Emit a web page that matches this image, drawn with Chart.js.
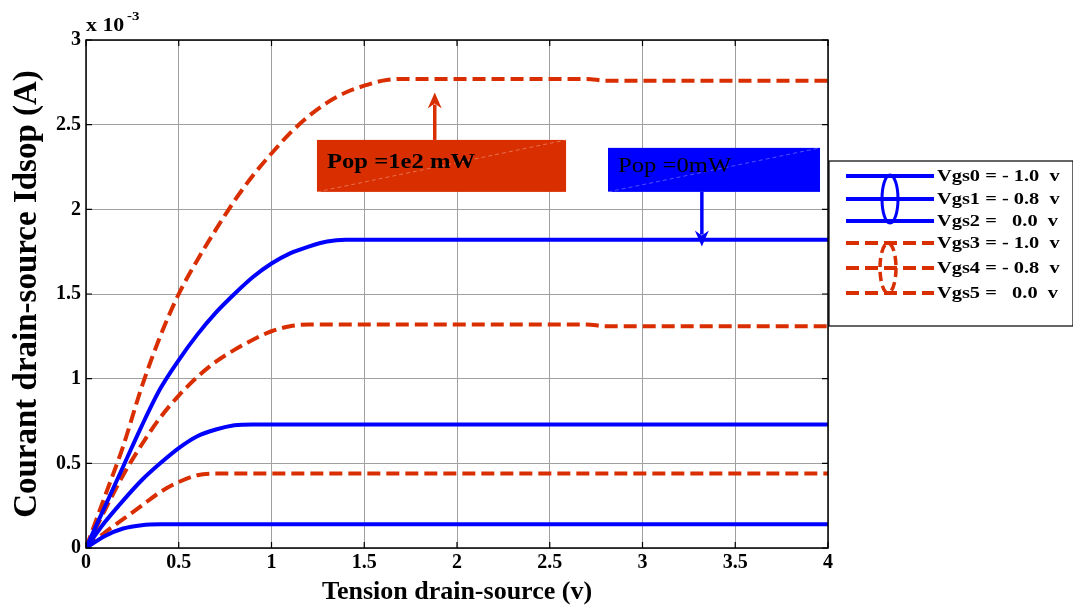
<!DOCTYPE html>
<html>
<head>
<meta charset="utf-8">
<script src="https://cdn.jsdelivr.net/npm/chart.js@4.4.0/dist/chart.umd.min.js"></script>
<style>
  html, body { margin: 0; padding: 0; background: #fff; }
  #wrap { width: 1073px; height: 608px; }
</style>
</head>
<body>
<div id="wrap"><canvas id="idsChart" width="1073" height="608"></canvas></div>
<script>
// drain-source voltage (v)
const vds = [0, 0.1, 0.2, 0.3, 0.4, 0.5, 0.6, 0.7, 0.8, 0.9, 1.0, 1.1, 1.2, 1.3, 1.4, 1.5, 1.6, 1.7, 1.8, 2.0, 2.5, 2.7, 2.8, 3.0, 3.5, 4.0];

// drain current, units of 1e-3 A
// Pop = 0 mW (blue, solid)
const vgs0 = [0, 0.07, 0.115, 0.135, 0.14, 0.14, 0.14, 0.14, 0.14, 0.14, 0.14, 0.14, 0.14, 0.14, 0.14, 0.14, 0.14, 0.14, 0.14, 0.14, 0.14, 0.14, 0.14, 0.14, 0.14, 0.14];
const vgs1 = [0, 0.15, 0.28, 0.4, 0.5, 0.59, 0.66, 0.7, 0.725, 0.73, 0.73, 0.73, 0.73, 0.73, 0.73, 0.73, 0.73, 0.73, 0.73, 0.73, 0.73, 0.73, 0.73, 0.73, 0.73, 0.73];
const vgs2 = [0, 0.24, 0.48, 0.72, 0.94, 1.11, 1.26, 1.39, 1.5, 1.6, 1.68, 1.74, 1.78, 1.81, 1.82, 1.82, 1.82, 1.82, 1.82, 1.82, 1.82, 1.82, 1.82, 1.82, 1.82, 1.82];
// Pop = 1e2 mW (red, dashed)
const vgs3 = [0, 0.09, 0.17, 0.25, 0.33, 0.39, 0.43, 0.44, 0.44, 0.44, 0.44, 0.44, 0.44, 0.44, 0.44, 0.44, 0.44, 0.44, 0.44, 0.44, 0.44, 0.44, 0.44, 0.44, 0.44, 0.44];
const vgs4 = [0, 0.22, 0.43, 0.61, 0.77, 0.9, 1.01, 1.1, 1.17, 1.23, 1.28, 1.31, 1.32, 1.32, 1.32, 1.32, 1.32, 1.32, 1.32, 1.32, 1.32, 1.32, 1.31, 1.31, 1.31, 1.31];
const vgs5 = [0, 0.3, 0.6, 0.95, 1.25, 1.5, 1.7, 1.88, 2.05, 2.2, 2.33, 2.45, 2.55, 2.63, 2.69, 2.73, 2.76, 2.77, 2.77, 2.77, 2.77, 2.77, 2.76, 2.76, 2.76, 2.76];

const legendLabels = ['Vgs0 = - 1.0  v', 'Vgs1 = - 0.8  v', 'Vgs2 =   0.0  v', 'Vgs3 = - 1.0  v', 'Vgs4 = - 0.8  v', 'Vgs5 =   0.0  v'];

const BLUE = '#0000ff';
const RED = '#d92e00';
const SERIF = '"Liberation Serif", "Times New Roman", serif';

const toPoints = (ys) => vds.map((x, i) => ({ x: x, y: ys[i] }));

const makeSet = (label, ys, color, dashed) => ({
    label: label,
    data: toPoints(ys),
    borderColor: color,
    backgroundColor: color,
    borderWidth: 4,
    borderDash: dashed ? [13, 6] : [],
    pointRadius: 0,
    cubicInterpolationMode: 'monotone',
    fill: false
});

// text squeezed wider, the original figure is stretched sideways
const wideText = (ctx, text, x, y, sx) => {
    ctx.save();
    ctx.translate(x, y);
    ctx.scale(sx, 1);
    ctx.fillText(text, 0, 0);
    ctx.restore();
};

// frame, notes and legend drawn on top of the chart area
const extrasPlugin = {
    id: 'extras',
    afterDraw(chart) {
        const ctx = chart.ctx;
        const xs = chart.scales.x, ys = chart.scales.y;
        const a = chart.chartArea;
        ctx.save();

        // frame + inward ticks
        ctx.strokeStyle = '#000';
        ctx.lineWidth = 1.5;
        ctx.strokeRect(a.left, a.top, a.right - a.left, a.bottom - a.top);
        ctx.lineWidth = 1.2;
        ctx.beginPath();
        xs.ticks.forEach(t => {
            const p = xs.getPixelForValue(t.value);
            ctx.moveTo(p, a.bottom); ctx.lineTo(p, a.bottom - 6);
            ctx.moveTo(p, a.top); ctx.lineTo(p, a.top + 6);
        });
        ys.ticks.forEach(t => {
            const p = ys.getPixelForValue(t.value);
            ctx.moveTo(a.left, p); ctx.lineTo(a.left + 6, p);
            ctx.moveTo(a.right, p); ctx.lineTo(a.right - 6, p);
        });
        ctx.stroke();

        // exponent
        ctx.fillStyle = '#000';
        ctx.textBaseline = 'alphabetic';
        ctx.font = 'bold 19px ' + SERIF;
        wideText(ctx, 'x 10', a.left, a.top - 9, 1.15);
        ctx.font = 'bold 13px ' + SERIF;
        wideText(ctx, '-3', a.left + 41, a.top - 20, 1.15);

        // note boxes
        const note = (x0, x1, y0, y1, fill, text, bold) => {
            const l = xs.getPixelForValue(x0), r = xs.getPixelForValue(x1);
            const t = ys.getPixelForValue(y0), b = ys.getPixelForValue(y1);
            ctx.fillStyle = fill;
            ctx.fillRect(l, t, r - l, b - t);
            ctx.strokeStyle = 'rgba(255,255,255,0.45)';
            ctx.lineWidth = 0.7;
            ctx.setLineDash([4, 3]);
            ctx.beginPath();
            ctx.moveTo(l, b);
            ctx.lineTo(r, t);
            ctx.stroke();
            ctx.setLineDash([]);
            ctx.fillStyle = '#000';
            ctx.font = (bold ? 'bold ' : '') + '22px ' + SERIF;
            ctx.textBaseline = 'middle';
            wideText(ctx, text, l + 10, (t + b) / 2 - 4, 1.12);
        };
        const arrow = (x, yFrom, yTo, color) => {
            const px = xs.getPixelForValue(x);
            const p0 = ys.getPixelForValue(yFrom), p1 = ys.getPixelForValue(yTo);
            const dir = p1 < p0 ? -1 : 1;
            ctx.strokeStyle = color;
            ctx.fillStyle = color;
            ctx.lineWidth = 3.5;
            ctx.beginPath();
            ctx.moveTo(px, p0);
            ctx.lineTo(px, p1 - dir * 12);
            ctx.stroke();
            ctx.beginPath();
            ctx.moveTo(px, p1);
            ctx.lineTo(px - 7, p1 - dir * 16);
            ctx.lineTo(px, p1 - dir * 11);
            ctx.lineTo(px + 7, p1 - dir * 16);
            ctx.closePath();
            ctx.fill();
        };
        note(1.245, 2.588, 2.41, 2.103, RED, 'Pop =1e2 mW', true);
        arrow(1.88, 2.41, 2.69, RED);
        note(2.814, 3.957, 2.363, 2.103, BLUE, 'Pop =0mW', false);
        arrow(3.32, 2.103, 1.78, BLUE);

        // legend
        const lx = a.right + 1, ly = 161, lw = 244, lh = 165;
        ctx.fillStyle = '#fff';
        ctx.fillRect(lx, ly, lw, lh);
        ctx.strokeStyle = '#000';
        ctx.lineWidth = 1.2;
        ctx.strokeRect(lx, ly, lw, lh);
        const rows = [176, 199, 221, 243, 268, 293];
        chart.data.datasets.forEach((ds, i) => {
            ctx.strokeStyle = ds.borderColor;
            ctx.lineWidth = 4;
            ctx.setLineDash(ds.borderDash);
            ctx.beginPath();
            ctx.moveTo(846, rows[i]);
            ctx.lineTo(934, rows[i]);
            ctx.stroke();
            ctx.setLineDash([]);
            ctx.fillStyle = '#000';
            ctx.font = 'bold 17px ' + SERIF;
            ctx.textBaseline = 'middle';
            wideText(ctx, ds.label, 937, rows[i] + 1, 1.2);
        });
        ctx.lineWidth = 3;
        ctx.strokeStyle = BLUE;
        ctx.beginPath();
        ctx.ellipse(890, 199, 8, 24, 0, 0, Math.PI * 2);
        ctx.stroke();
        ctx.strokeStyle = RED;
        ctx.lineWidth = 3.5;
        ctx.setLineDash([9, 5]);
        ctx.beginPath();
        ctx.ellipse(888, 268, 8, 25, 0, 0, Math.PI * 2);
        ctx.stroke();
        ctx.setLineDash([]);

        ctx.restore();
    }
};

const tickFont = { family: SERIF, size: 20, weight: 'bold' };
const tickText = (v) => String(v);

const ctx = document.getElementById('idsChart').getContext('2d');
const idsChart = new Chart(ctx, {
    type: 'line',
    data: {
        datasets: [
            makeSet(legendLabels[0], vgs0, BLUE, false),
            makeSet(legendLabels[1], vgs1, BLUE, false),
            makeSet(legendLabels[2], vgs2, BLUE, false),
            makeSet(legendLabels[3], vgs3, RED, true),
            makeSet(legendLabels[4], vgs4, RED, true),
            makeSet(legendLabels[5], vgs5, RED, true)
        ]
    },
    options: {
        responsive: false,
        animation: false,
        layout: { padding: { top: 40, right: 245, bottom: 0, left: 0 } },
        plugins: {
            legend: { display: false },
            tooltip: { enabled: false }
        },
        scales: {
            x: {
                type: 'linear',
                min: 0,
                max: 4,
                ticks: { stepSize: 0.5, color: '#000', font: tickFont, padding: 3, maxRotation: 0, callback: tickText },
                grid: { color: '#a0a0a0', lineWidth: 1, drawTicks: false },
                border: { display: false },
                title: {
                    display: true,
                    text: 'Tension drain-source (v)',
                    color: '#000',
                    font: { family: SERIF, size: 26, weight: 'bold' },
                    padding: { top: 0, bottom: 0 }
                },
                afterFit(scale) { scale.height = 60; }
            },
            y: {
                type: 'linear',
                min: 0,
                max: 3,
                ticks: { stepSize: 0.5, color: '#000', font: tickFont, padding: 5, callback: tickText },
                grid: { color: '#a0a0a0', lineWidth: 1, drawTicks: false },
                border: { display: false },
                title: {
                    display: true,
                    text: 'Courant drain-source Idsop (A)',
                    color: '#000',
                    font: { family: SERIF, size: 33, weight: 'bold' },
                    padding: { top: 8, bottom: 0 }
                },
                afterFit(scale) { scale.width = 86; }
            }
        }
    },
    plugins: [extrasPlugin]
});
</script>
</body>
</html>
